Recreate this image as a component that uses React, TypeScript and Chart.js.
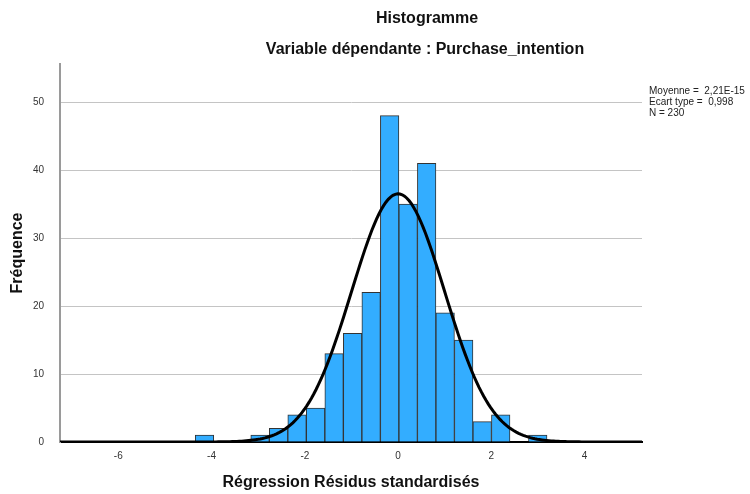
import React, { useEffect, useRef } from "react";
import { Chart, registerables } from "chart.js";

Chart.register(...registerables);

// Histogram bins (standardized residuals)
const binStart = -4.35; // left edge of the first bin
const binWidth = 0.397;
const binCounts = [1, 0, 0, 1, 2, 4, 5, 13, 16, 22, 48, 35, 41, 19, 15, 3, 4, 0, 1];

// Statistics shown in the legend
const statMean = 0;
const statSd = 0.998;
const statN = 230;
const statLines = ["Moyenne =  2,21E-15", "Ecart type =  0,998", "N = 230"];

const xMin = -7.25;
const xMax = 5.23;
const xTicks = [-6, -4, -2, 0, 2, 4];
const yMax = 55.6;
const yTicks = [0, 10, 20, 30, 40, 50];

const titleLine1 = "Histogramme";
const titleLine2 = "Variable dépendante : Purchase_intention";
const xTitle = "Régression Résidus standardisés";
const yTitle = "Fréquence";

const FONT = "'Liberation Sans', Arial, sans-serif";

export default function App() {
  const ref = useRef<HTMLCanvasElement | null>(null);

  useEffect(() => {
    document.body.style.margin = "0";
    const canvas = ref.current;
    if (!canvas) return;

    const barData = binCounts.map((c, i) => ({ x: binStart + (i + 0.5) * binWidth, y: c }));
    // fitted normal curve from the displayed mean / sd / N
    const curve: { x: number; y: number }[] = [];
    const steps = 250;
    for (let i = 0; i <= steps; i++) {
      const x = xMin + ((xMax - xMin) * i) / steps;
      const z = (x - statMean) / statSd;
      const y = (statN * binWidth) / (statSd * Math.sqrt(2 * Math.PI)) * Math.exp(-0.5 * z * z);
      curve.push({ x, y });
    }

    const textPlugin = {
      id: "texts",
      afterDraw(chart: any) {
        const ctx = chart.ctx as CanvasRenderingContext2D;
        const area = chart.chartArea;
        ctx.save();
        ctx.fillStyle = "#111";
        ctx.textAlign = "center";
        ctx.textBaseline = "middle";
        ctx.font = `bold 16px ${FONT}`;
        ctx.fillText(titleLine1, 427, 19);
        ctx.fillText(titleLine2, 425, 50);
        ctx.fillText(xTitle, (area.left + area.right) / 2, 483);
        ctx.save();
        ctx.translate(18, (area.top + area.bottom) / 2);
        ctx.rotate(-Math.PI / 2);
        ctx.fillText(yTitle, 0, 0);
        ctx.restore();
        ctx.font = `10px ${FONT}`;
        ctx.textAlign = "left";
        ctx.fillStyle = "#222";
        statLines.forEach((t, i) => ctx.fillText(t, 649, 91 + i * 11));
        ctx.restore();
      },
    };

    const chart = new Chart(canvas, {
      type: "bar",
      data: {
        datasets: [
          {
            type: "line",
            data: curve,
            borderColor: "#000",
            borderWidth: 3,
            pointRadius: 0,
            tension: 0,
            fill: false,
            order: 0,
          } as any,
          {
            type: "bar",
            data: barData,
            backgroundColor: "#33adff",
            borderColor: "#333333",
            borderWidth: 1,
            barPercentage: 1,
            categoryPercentage: 1,
            order: 1,
          } as any,
        ],
      },
      options: {
        animation: false,
        responsive: false,
        devicePixelRatio: 1,
        layout: { padding: { left: 0, top: 64, right: 108, bottom: 0 } },
        plugins: { legend: { display: false }, tooltip: { enabled: false } },
        scales: {
          x: {
            type: "linear",
            min: xMin,
            max: xMax,
            offset: false,
            bounds: "data",
            afterBuildTicks(scale: any) {
              scale.ticks = xTicks.map((v) => ({ value: v }));
            },
            afterFit(scale: any) {
              scale.height = 52;
            },
            grid: { display: false, drawTicks: false, offset: false },
            border: { display: true, color: "#000", width: 2 },
            ticks: {
              font: { family: FONT, size: 10 },
              color: "#333",
              padding: 8,
              maxRotation: 0,
              callback: (v: any) => String(v),
            },
          },
          y: {
            type: "linear",
            min: 0,
            max: yMax,
            afterBuildTicks(scale: any) {
              scale.ticks = yTicks.map((v) => ({ value: v }));
            },
            afterFit(scale: any) {
              scale.width = 60;
            },
            grid: {
              color: (c: any) => (c.tick && c.tick.value === 0 ? "rgba(0,0,0,0)" : "#c4c4c4"),
              lineWidth: 1,
              drawTicks: false,
            },
            border: { display: true, color: "#9a9a9a", width: 2 },
            ticks: {
              font: { family: FONT, size: 10 },
              color: "#333",
              padding: 16,
            },
          },
        },
      } as any,
      plugins: [textPlugin],
    });

    return () => chart.destroy();
  }, []);

  return <canvas ref={ref} width={750} height={494} style={{ display: "block" }} />;
}
